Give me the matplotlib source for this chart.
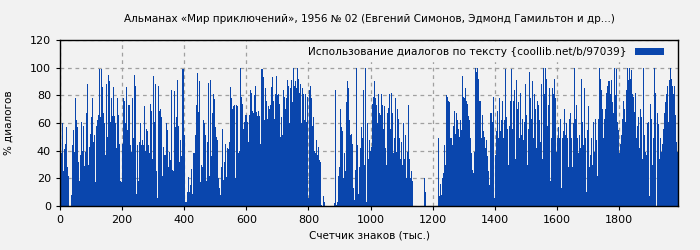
import matplotlib
matplotlib.use("Agg")
import matplotlib.pyplot as plt
import numpy as np

# % of dialogue per text position (one bar per ~3.2 thousand chars)
pct_0_220 = [15, 38, 60, 25, 41, 45, 57, 28, 22, 0, 0, 8, 44, 55, 39, 78, 62, 57, 32, 18,
             37, 61, 40, 58, 29, 39, 67, 88, 30, 43, 52, 64, 78, 46, 51, 17, 58, 62, 66, 99,
             64, 99, 86, 67, 60, 37, 88, 50, 95, 90, 61, 78, 65, 86, 65, 60, 42, 78, 66, 45,
             18, 17, 45, 78, 76, 60, 86, 55]
pct_220_450 = [73, 73, 44, 39, 78, 49, 95, 87, 9, 44, 18, 46, 60, 44, 48, 44, 72, 40, 56, 54,
               44, 38, 74, 69, 34, 94, 61, 88, 25, 6, 87, 69, 70, 64, 22, 43, 37, 37, 60, 55,
               28, 39, 33, 84, 26, 25, 83, 57, 64, 91, 58, 32, 48, 36, 99, 99, 51, 3, 3, 10,
               21, 10, 15, 27, 9, 38, 38, 51, 73, 96, 68, 90]
pct_450_675 = [17, 30, 28, 62, 60, 51, 18, 46, 89, 22, 91, 36, 67, 81, 77, 57, 50, 48, 20, 13,
               8, 28, 56, 19, 32, 45, 21, 42, 41, 46, 86, 78, 70, 72, 73, 20, 73, 72, 38, 40,
               100, 79, 74, 56, 61, 66, 66, 61, 46, 66, 84, 82, 69, 67, 80, 87, 68, 65, 69, 65,
               45, 99, 99, 93, 62, 85, 76, 63, 72, 70]
pct_675_895 = [73, 86, 93, 76, 63, 81, 94, 80, 81, 74, 50, 64, 51, 84, 79, 70, 78, 91, 87, 60,
               85, 91, 75, 100, 87, 90, 85, 100, 92, 82, 88, 60, 85, 81, 62, 81, 61, 79, 6, 84,
               87, 78, 58, 64, 40, 38, 48, 37, 43, 33, 32, 1, 0, 7, 3, 0, 0, 0, 0, 0,
               0, 0, 0, 0, 2, 84, 1, 3]
pct_895_1125 = [22, 28, 70, 57, 54, 20, 38, 25, 75, 90, 85, 62, 51, 52, 45, 13, 4, 26, 100, 44,
                9, 28, 42, 57, 49, 84, 30, 100, 3, 60, 34, 48, 40, 43, 39, 74, 79, 90, 78, 73,
                60, 81, 67, 66, 81, 73, 56, 72, 42, 30, 67, 71, 81, 56, 82, 67, 38, 49, 78, 39,
                70, 63, 49, 34, 46, 30, 60, 34, 51, 20, 39, 73]
pct_1125_1350 = [34, 20, 25, 18, 0, 0, 0, 0, 0, 0, 0, 0, 0, 0, 0, 20, 10, 0, 0, 0,
                 0, 0, 0, 0, 0, 0, 0, 0, 0, 49, 7, 16, 8, 20, 24, 44, 30, 80, 79, 76,
                 75, 49, 49, 44, 58, 69, 52, 67, 62, 56, 50, 62, 55, 94, 79, 78, 85, 76, 74, 65,
                 62, 49, 38, 26, 24, 39, 100, 97, 100, 92]
pct_1350_1575 = [76, 76, 49, 66, 54, 50, 42, 48, 36, 25, 15, 67, 67, 61, 79, 6, 37, 54, 69, 49,
                 78, 54, 62, 76, 49, 62, 99, 64, 56, 30, 58, 76, 99, 56, 76, 84, 34, 91, 70, 75,
                 49, 82, 51, 63, 48, 61, 88, 66, 30, 56, 97, 78, 63, 90, 49, 81, 70, 42, 76, 73,
                 62, 46, 88, 34, 100, 81, 100, 92, 58, 73]
pct_1575_1800 = [85, 18, 49, 85, 81, 92, 78, 39, 49, 57, 49, 63, 13, 49, 54, 70, 51, 60, 49, 28,
                 63, 67, 49, 28, 60, 100, 63, 73, 49, 38, 51, 42, 92, 61, 44, 85, 49, 10, 55, 72,
                 28, 37, 49, 30, 61, 39, 63, 48, 22, 63, 100, 92, 84, 70, 49, 63, 70, 82, 87, 90,
                 90, 81, 91, 75, 67, 100, 80, 99, 61, 55]
pct_1800_end = [38, 45, 51, 63, 76, 70, 61, 84, 100, 91, 100, 92, 98, 81, 79, 68, 82, 49, 58, 64,
                42, 70, 64, 34, 100, 51, 39, 37, 60, 61, 7, 74, 63, 30, 49, 100, 82, 0, 67, 59,
                34, 49, 39, 45, 56, 67, 75, 81, 87, 61, 91, 100, 92, 87, 81, 87, 66, 46, 39]

pct = np.array(pct_0_220 + pct_220_450 + pct_450_675 + pct_675_895 + pct_895_1125
               + pct_1125_1350 + pct_1350_1575 + pct_1575_1800 + pct_1800_end)
step = 3.215  # thousand chars per bar
chars = np.arange(len(pct)) * step

bg = "#f2f2f2"
blue = "#0a46ad"

fig = plt.figure(figsize=(7, 2.5), dpi=100, facecolor=bg)
ax = fig.add_axes([0.0857, 0.176, 0.8829, 0.664], facecolor=bg)

ax.bar(chars, pct, width=step, align="edge", color=blue, linewidth=0,
       label="Использование диалогов по тексту {coollib.net/b/97039}", zorder=2)

ax.set_xlim(0, len(pct) * step)
ax.set_ylim(0, 120)
ax.set_xticks(np.arange(0, 2000, 200))
ax.set_yticks(np.arange(0, 121, 20))
ax.tick_params(labelsize=8, length=3, color="black")
ax.grid(True, color="#a0a0a0", linestyle=(0, (3, 3)), linewidth=0.9, zorder=0)
ax.set_axisbelow(True)
for s in ax.spines.values():
    s.set_color("black")
    s.set_linewidth(1)

ax.set_title("Альманах «Мир приключений», 1956 № 02 (Евгений Симонов, Эдмонд Гамильтон и др...)",
             fontsize=7.5, pad=13)
ax.set_xlabel("Счетчик знаков (тыс.)", fontsize=7.5)
ax.set_ylabel("% диалогов", fontsize=7.5, labelpad=12)

leg = ax.legend(loc="upper right", bbox_to_anchor=(0.99, 1.0), fontsize=7.6,
                markerfirst=False, frameon=True, facecolor=bg, edgecolor=bg,
                framealpha=1, handlelength=2.8, handleheight=0.6, borderpad=0.3,
                borderaxespad=0.4, fancybox=False)
leg.set_zorder(5)

fig.savefig("out.png", dpi=100, facecolor=bg)
